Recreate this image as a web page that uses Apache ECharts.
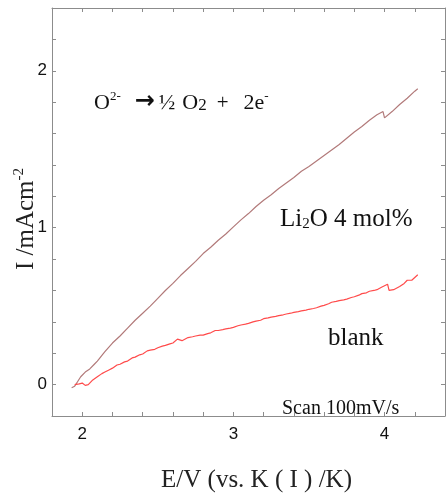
<!DOCTYPE html>
<html>
<head>
<meta charset="utf-8">
<script src="https://cdn.jsdelivr.net/npm/echarts@6/dist/echarts.min.js"></script>
<style>
  html, body { margin: 0; padding: 0; background: #fff; }
  #main { width: 446px; height: 497px; }
</style>
</head>
<body>
<div id="main"></div>
<script>
// 电位 (V) 与电流 (mA/cm2)
const li2oPotential = [1.93, 1.95, 1.97, 1.99, 2.02, 2.05, 2.08, 2.10, 2.15, 2.20, 2.25, 2.30, 2.35, 2.40, 2.45, 2.50,
    2.55, 2.60, 2.65, 2.70, 2.75, 2.80, 2.85, 2.90, 2.95, 3.00, 3.05, 3.10, 3.15, 3.20, 3.25, 3.30, 3.35, 3.40,
    3.45, 3.50, 3.55, 3.60, 3.65, 3.70, 3.75, 3.80, 3.85, 3.90, 3.95, 3.99, 4.00, 4.05, 4.10, 4.15, 4.20, 4.22];
const li2oCurrent = [-0.02, -0.01, 0.02, 0.05, 0.08, 0.10, 0.13, 0.15, 0.21, 0.265, 0.31, 0.36, 0.41, 0.455, 0.50, 0.55,
    0.60, 0.645, 0.695, 0.74, 0.785, 0.835, 0.875, 0.92, 0.96, 1.005, 1.05, 1.09, 1.135, 1.175, 1.21, 1.25, 1.285, 1.32,
    1.36, 1.39, 1.425, 1.46, 1.495, 1.53, 1.57, 1.61, 1.645, 1.685, 1.72, 1.74, 1.70, 1.74, 1.785, 1.825, 1.87, 1.885];

const blankPotential = [1.95, 1.98, 2.00, 2.02, 2.04, 2.07, 2.10, 2.13, 2.15, 2.18, 2.20, 2.23, 2.25, 2.28, 2.30, 2.33,
    2.35, 2.38, 2.40, 2.43, 2.45, 2.48, 2.50, 2.53, 2.55, 2.58, 2.60, 2.63, 2.66, 2.70, 2.73, 2.75, 2.78, 2.80, 2.83,
    2.85, 2.88, 2.90, 2.93, 2.95, 2.98, 3.00, 3.03, 3.05, 3.08, 3.10, 3.13, 3.15, 3.18, 3.20, 3.23, 3.25, 3.28, 3.30,
    3.33, 3.35, 3.38, 3.40, 3.43, 3.45, 3.48, 3.50, 3.53, 3.55, 3.58, 3.60, 3.63, 3.65, 3.68, 3.70, 3.73, 3.75, 3.78,
    3.80, 3.83, 3.85, 3.88, 3.90, 3.93, 3.95, 3.98, 4.00, 4.02, 4.03, 4.06, 4.10, 4.13, 4.15, 4.18, 4.22];
const blankCurrent = [0.00, 0.005, 0.01, -0.005, 0.00, 0.03, 0.05, 0.07, 0.08, 0.095, 0.105, 0.125, 0.13, 0.145, 0.15, 0.17,
    0.175, 0.19, 0.195, 0.215, 0.22, 0.225, 0.235, 0.245, 0.25, 0.26, 0.265, 0.29, 0.28, 0.30, 0.305, 0.31, 0.315, 0.315, 0.325,
    0.33, 0.345, 0.345, 0.35, 0.355, 0.36, 0.365, 0.375, 0.38, 0.385, 0.39, 0.40, 0.405, 0.41, 0.42, 0.425, 0.43, 0.435, 0.44,
    0.445, 0.45, 0.455, 0.46, 0.465, 0.47, 0.475, 0.48, 0.485, 0.49, 0.50, 0.505, 0.515, 0.525, 0.53, 0.535, 0.54, 0.545, 0.555,
    0.56, 0.57, 0.58, 0.585, 0.595, 0.60, 0.605, 0.62, 0.63, 0.64, 0.60, 0.605, 0.625, 0.645, 0.665, 0.665, 0.70];

const xLabels = [2, 3, 4];
const yLabels = [0, 1, 2];

const frameColor = '#8c8c8c';
const serif = 'Liberation Serif, Times New Roman, serif';
const sans = 'Liberation Sans, Arial, sans-serif';

function pairs (xs, ys) {
    return xs.map((x, i) => [x, ys[i]]);
}
function pickLabel (list) {
    return v => {
        const hit = list.find(t => Math.abs(t - v) < 1e-6);
        return hit === undefined ? '' : String(hit);
    };
}

const axisBase = {
    axisLine: { show: true, onZero: false, lineStyle: { color: frameColor, width: 1 } },
    axisTick: { show: true, inside: true, length: 4, lineStyle: { color: frameColor } },
    splitLine: { show: false }
};

const myChart = echarts.init(document.getElementById('main'), null, { renderer: 'canvas' });
const option = {
    animation: false,
    backgroundColor: '#fff',
    grid: { left: 52, top: 8, width: 393, height: 408, containLabel: false, outerBoundsMode: 'none' },
    xAxis: [
        Object.assign({}, axisBase, {
            type: 'value', min: 1.8, max: 4.4, interval: 0.2, position: 'bottom',
            axisLabel: { formatter: pickLabel(xLabels), color: '#111', fontFamily: sans, fontSize: 17, margin: 10 },
            name: 'E/V (vs. K ( I ) /K)', nameLocation: 'middle', nameGap: 52,
            nameTextStyle: { fontFamily: serif, fontSize: 25, color: '#222', padding: [0, 0, 0, 16] }
        }),
        Object.assign({}, axisBase, {
            type: 'value', min: 1.8, max: 4.4, interval: 0.2, position: 'top',
            axisLabel: { show: false }
        })
    ],
    yAxis: [
        Object.assign({}, axisBase, {
            type: 'value', min: -0.2, max: 2.4, interval: 0.2, position: 'left',
            axisLabel: { formatter: pickLabel(yLabels), color: '#111', fontFamily: sans, fontSize: 17, margin: 5 }
        }),
        Object.assign({}, axisBase, {
            type: 'value', min: -0.2, max: 2.4, interval: 0.2, position: 'right',
            axisLabel: { show: false }
        })
    ],
    series: [
        {
            name: 'Li2O 4 mol%', type: 'line', data: pairs(li2oPotential, li2oCurrent),
            showSymbol: false, lineStyle: { color: '#b27a7a', width: 1.2 }
        },
        {
            name: 'blank', type: 'line', data: pairs(blankPotential, blankCurrent),
            showSymbol: false, lineStyle: { color: '#ff4b4b', width: 1.2 }
        }
    ],
    graphic: [
        {
            // 纵轴标题
            type: 'text', x: 25, y: 219, rotation: Math.PI / 2,
            style: {
                text: '{n|I /mAcm}{s|-2}', align: 'center', verticalAlign: 'middle',
                rich: {
                    n: { fontFamily: serif, fontSize: 25, lineHeight: 27, verticalAlign: 'bottom', fill: '#222' },
                    s: { fontFamily: serif, fontSize: 15, lineHeight: 27, verticalAlign: 'top', fill: '#222' }
                }
            }
        },
        {
            type: 'text', left: 94, top: 90,
            style: {
                text: '{b|O}{p|2-}{a|\u2192}{h|\u00bd}{o|O}{d|2}{pl|+}{e|2e}{p|-}',
                rich: {
                    b: { fontFamily: serif, fontSize: 22, lineHeight: 24, verticalAlign: 'bottom', fill: '#111' },
                    h: { fontFamily: serif, fontSize: 22, lineHeight: 24, verticalAlign: 'bottom', fill: '#111', padding: [0, 0, 0, 4] },
                    o: { fontFamily: serif, fontSize: 22, lineHeight: 24, verticalAlign: 'bottom', fill: '#111', padding: [0, 0, 0, 7] },
                    a: { fontFamily: 'DejaVu Sans', fontWeight: 'bold', fontSize: 24, lineHeight: 24, verticalAlign: 'bottom', fill: '#111', padding: [0, 0, 0, 14] },
                    p: { fontFamily: serif, fontSize: 13, lineHeight: 20, verticalAlign: 'top', fill: '#111' },
                    d: { fontFamily: serif, fontSize: 17, lineHeight: 24, verticalAlign: 'bottom', fill: '#111' },
                    pl: { fontFamily: serif, fontSize: 21, lineHeight: 24, verticalAlign: 'bottom', fill: '#111', padding: [0, 0, 0, 10] },
                    e: { fontFamily: serif, fontSize: 22, lineHeight: 24, verticalAlign: 'bottom', fill: '#111', padding: [0, 0, 0, 15] }
                }
            }
        },
        {
            type: 'text', left: 280, top: 207,
            style: {
                text: '{b|Li}{d|2}{b|O 4 mol%}',
                rich: {
                    b: { fontFamily: serif, fontSize: 25, lineHeight: 28, verticalAlign: 'bottom', fill: '#111' },
                    d: { fontFamily: serif, fontSize: 15, lineHeight: 24, verticalAlign: 'bottom', fill: '#111' }
                }
            }
        },
        {
            type: 'text', left: 328, top: 326,
            style: { text: 'blank', fontFamily: serif, fontSize: 25, fill: '#111' }
        },
        {
            type: 'text', left: 282, top: 399,
            style: { text: 'Scan 100mV/s', fontFamily: serif, fontSize: 20, fill: '#111' }
        }
    ]
};
myChart.setOption(option);
</script>
</body>
</html>
